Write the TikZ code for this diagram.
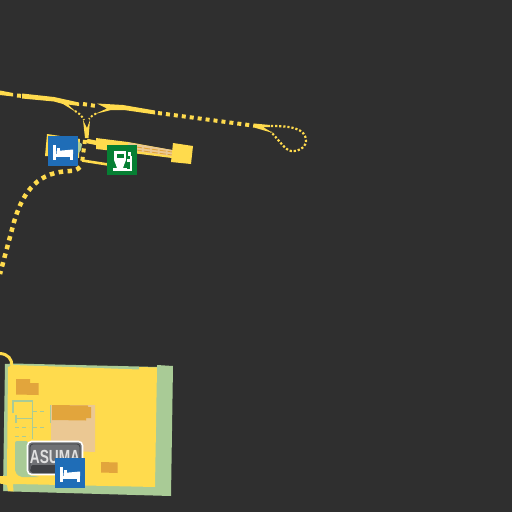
\documentclass[tikz,border=0pt]{standalone}
\usepackage{fontspec}
\setmainfont{Liberation Sans}
\definecolor{bg}{HTML}{2F2F2F}
\definecolor{road}{HTML}{FFDB4D}
\definecolor{lawn}{HTML}{A9CB96}
\definecolor{bldg}{HTML}{E2A53C}
\definecolor{sand}{HTML}{EBC893}
\definecolor{bedblue}{HTML}{1F6DB7}
\definecolor{fuelgreen}{HTML}{067F33}
\definecolor{signgrey}{HTML}{6F7175}
\definecolor{signdark}{HTML}{3F4145}
\tikzset{
  x=1pt,y=-1pt,
  roadline/.style={draw=road,line width=#1,line cap=butt},
  roadline/.default=3pt,
  dotted road/.style={draw=road,line width=#1,dash pattern=on #1 off #1},
  lawnline/.style={draw=lawn,line width=1.8pt},
  lawndash/.style={draw=lawn,line width=1pt,dash pattern=on 4pt off 3pt},
  iconbox/.style={minimum size=#1,inner sep=0pt,outer sep=0pt,anchor=north west},
  glyph/.style={fill=white,draw=none}
}
\begin{document}
\begin{tikzpicture}
\useasboundingbox (0,0) rectangle (512,512);
\fill[bg] (0,0) rectangle (512,512);

% upper road
\fill[road] (0,90.5) -- (13,93) -- (13,96.5) -- (0,95) -- cycle;
\draw[dotted road=4pt] (17,95.5) -- (23,96);
\fill[road] (22,93.5) -- (54,97) -- (79,102.5) -- (79,106) -- (68,104.5) -- (76,112) -- (63,104) -- (54,101.5) -- (22,98.5) -- cycle;
\draw[dotted road=4pt] (83,104) -- (96,106);
\fill[road] (97,103.5) -- (123,105) -- (155,110.5) -- (155,114.5) -- (124,110) -- (111,110) -- (95,114) -- (107,108.5) -- cycle;
\draw[dotted road=4pt] (158,113) -- (254,125.7);
% slip roads to the junction
\draw[draw=road,line width=2pt,dash pattern=on 2pt off 2pt] (75,111) .. controls (79,113) and (82,116) .. (84,120);
\draw[draw=road,line width=2pt,dash pattern=on 2pt off 2pt] (96,113.5) .. controls (93,115) and (91,116.5) .. (89,119);
\fill[road] (83,120) -- (87,128) -- (90,120) -- (88.5,138) -- (85,138) -- cycle;
% loop at the east end
\fill[road] (254,123.5) -- (270,125) -- (270,127) -- (263,127) -- (273,133) -- (254,127.5) -- cycle;
\draw[draw=road,line width=2.2pt,dash pattern=on 2.2pt off 1.9pt] (271,126) .. controls (290,126) and (306,128) .. (306,141) .. controls (306,148) and (296,153) .. (289,150.5) .. controls (283,147) and (277,138) .. (271,132);
% branch road heading south
\draw[dotted road=4.5pt] (80,167) .. controls (77,170) and (74,171) .. (70,171) .. controls (40,172) and (24,188) .. (14,222) -- (0,274);

% terminal strip
\fill[road] (96,138) -- (128,142) -- (172,150) -- (172,158) -- (128,152.5) -- (96,149) -- cycle;
\fill[sand] (128,142.5) -- (172,150) -- (172,156) -- (128,150) -- cycle;
\draw[bldg,line width=.9pt,dash pattern=on 6pt off 2pt] (136,147) -- (172,152);
\draw[bldg,line width=.9pt,dash pattern=on 6pt off 2pt] (136,150) -- (172,155);
\fill[road] (173,143) -- (193,146) -- (191,164) -- (171,162) -- cycle;
\draw[roadline=4.5pt] (87,141) -- (97,143);
\draw[roadline=2.6pt] (82,160.5) -- (108,164.5);
\fill[road] (47,134) -- (80,139) -- (79,158) -- (45,156) -- cycle;
\fill[lawn] (76,140) -- (82,144) -- (81,150) -- (76,156) -- cycle;
\draw[road,line width=4pt,dash pattern=on 4pt off 4.5pt] (85,140) -- (82,163);

% southern site
\fill[lawn] (5,364) -- (13,363.5) -- (139,366.5) -- (157,367) -- (157,365) -- (173,366) -- (171,496) -- (13,491.5) -- (3,491) -- cycle;
\fill[road] (8,367) -- (13,365) -- (139,369.5) -- (139,367) -- (157,367.5) -- (155,487) -- (15,484) -- (15,476) -- (7,476) -- cycle;
\fill[lawn,rounded corners=2pt] (15,441) -- (28,441) -- (28,475) -- (40,477) -- (20,477) -- (15,472) -- cycle;
\fill[road] (0,476) -- (16,476) -- (16,484) -- (13,484) -- (13.5,491.5) -- (8,491) -- (7,485) -- (0,483.5) -- cycle;
\fill[bg] (0,484) -- (3,484.5) -- (3,491) -- (0,491) -- cycle;
\draw[road,line width=3pt] (0,353.5) .. controls (8,354) and (12,359) .. (12,366);
% buildings and yard
\fill[sand] (51,405) -- (95,405) -- (95,452) -- (51,450) -- cycle;
\fill[bldg] (16,379) -- (30,379) -- (30,383) -- (38.5,383) -- (38.5,395) -- (16,394.5) -- cycle;
\fill[bldg] (52,405) -- (88,405.5) -- (88,407) -- (91,407) -- (91,418) -- (86,418) -- (86,420.5) -- (52,420) -- cycle;
\fill[bldg] (101,462) -- (117.5,462.5) -- (117.5,473) -- (101,472.5) -- cycle;
% yard markings
\draw[lawnline] (13,413) -- (13,400.8) -- (32.5,400.8) -- (32.5,439);
\draw[lawnline] (16,418.5) -- (32,418.5);
\draw[lawnline] (16,415) -- (16,423);
\draw[lawnline] (50.5,405) -- (50.5,422.5);
\draw[lawndash] (33,411) -- (45,411);
\draw[lawndash] (33,427) -- (44,427);
\draw[lawndash] (15,427.5) -- (29,427.5);
\draw[lawndash] (15,436.5) -- (29,436.5);

% sign
\node[draw=white,line width=1.6pt,fill=signgrey,rounded corners=4pt,minimum width=55pt,minimum height=33pt,inner sep=0pt,outer sep=0pt] (sign) at (55,458) {};
\fill[signdark,rounded corners=2pt] (31,465) rectangle (79,473);
\node[draw=signdark,line width=.8pt,rounded corners=3pt,minimum width=50pt,minimum height=28pt,inner sep=0pt] (signinner) at (sign.center) {};
\node[font=\bfseries\fontsize{19}{19}\selectfont,text=black!12,inner sep=0pt,xscale=.72] (signtext) at (55,456.5) {ASUMA};

% icons
\node[iconbox=30pt,fill=bedblue] (bedA) at (48,136) {};
\node[iconbox=30pt,fill=bedblue] (bedB) at (55,458) {};
\node[iconbox=30pt,fill=fuelgreen] (fuel) at (107,145) {};
\foreach \n in {bedA,bedB}{
  \begin{scope}[shift={(\n.north west)}]
    \fill[glyph] (4.5,9) rectangle (7.5,23.5);
    \fill[glyph] (8.5,11.5) rectangle (11.5,15);
    \fill[glyph] (8.5,15) -- (25,13.5) -- (25,18) -- (8.5,18) -- cycle;
    \fill[glyph] (4.5,18) rectangle (25,20.5);
    \fill[glyph] (22,18) rectangle (25,23.5);
  \end{scope}
}
\begin{scope}[shift={(fuel.north west)}]
  \fill[glyph] (7,6) rectangle (19,15);
  \fill[fuelgreen] (9.5,8.5) rectangle (16.5,12.5);
  \fill[glyph] (7,15) -- (19,15) -- (17,20) -- (16,23) -- (10,23) -- (9,20) -- cycle;
  \fill[glyph] (6,23) rectangle (20,26);
  \fill[glyph] (21,7) rectangle (24,11);
  \fill[glyph] (22.5,11) rectangle (25,25);
  \fill[glyph] (19.5,14) rectangle (22.5,17);
  \fill[glyph] (20,23.5) rectangle (25,26);
\end{scope}
\end{tikzpicture}
\end{document}
